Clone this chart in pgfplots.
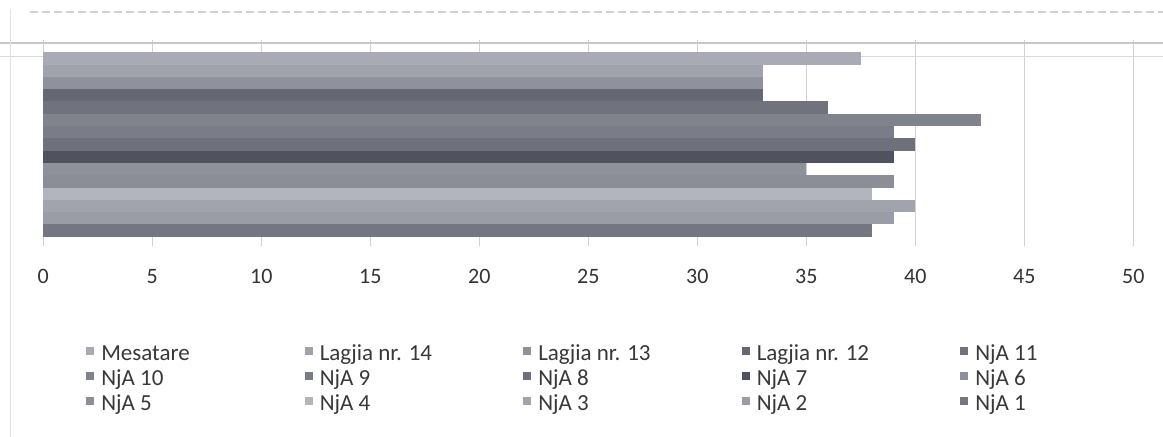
\documentclass[border=0pt]{standalone}
\usepackage{fontspec}
\setmainfont{Carlito}
\usepackage{pgfplots}
\pgfplotsset{compat=1.18}
\definecolor{c1}{HTML}{A9ABB4}
\definecolor{c2}{HTML}{A1A3AC}
\definecolor{c3}{HTML}{8F919B}
\definecolor{c4}{HTML}{656772}
\definecolor{c5}{HTML}{70727C}
\definecolor{c6}{HTML}{80828C}
\definecolor{c7}{HTML}{7A7C87}
\definecolor{c8}{HTML}{6E707B}
\definecolor{c9}{HTML}{50525D}
\definecolor{c10}{HTML}{8E909A}
\definecolor{c11}{HTML}{8B8D97}
\definecolor{c12}{HTML}{B3B5BE}
\definecolor{c13}{HTML}{A2A4AD}
\definecolor{c14}{HTML}{9B9DA6}
\definecolor{c15}{HTML}{747682}
\begin{document}
\begin{tikzpicture}
\begin{axis}[
  scale only axis, width=545pt, height=103pt,
  xmin=0, xmax=50, ymin=-0.256, ymax=16.5,
  clip=false,
  xbar, bar width=1, bar shift=0pt,
  xtick={0,5,...,50}, ytick=\empty,
  xmajorgrids, grid style={color=black!18, line width=0.6pt},
  axis line style={draw=none},
  major tick length=0pt,
  tick label style={font=\fontsize{11}{13}\selectfont, text=black!80},
  /pgf/number format/assume math mode=true,
  xticklabel style={yshift=-8.3pt},
  legend columns=5,
  legend image code/.code={\fill[#1] (0pt,-0.3pt) rectangle (4pt,3.7pt);},
  legend style={
    at={(0.0336,-0.455)}, anchor=north west,
    draw=none, fill=none,
    font=\fontsize{11.5}{13}\selectfont, text=black!78,
    column sep=0pt,
    /tikz/every odd column/.append style={column sep=3.5pt},
    nodes={inner sep=0pt, text height=8pt, text depth=2.5pt},
    row sep=2pt,
  },
]
% faint scan lines of the original page
\draw[black!22, line width=0.6pt] ([shift={(-21.65pt,101.5pt)}]rel axis cs:0,0) -- ([shift={(559.85pt,101.5pt)}]rel axis cs:0,0);
\draw[black!15, line width=0.5pt] ([shift={(-21.65pt,94.5pt)}]rel axis cs:0,0) -- ([shift={(559.85pt,94.5pt)}]rel axis cs:0,0);
\draw[black!12, line width=0.5pt] ([shift={(-16.15pt,-95.5pt)}]rel axis cs:0,0) -- ([shift={(-16.15pt,118.5pt)}]rel axis cs:0,0);
\draw[black!18, line width=0.6pt, dash pattern=on 4pt off 2pt] ([shift={(-6.65pt,117pt)}]rel axis cs:0,0) -- ([shift={(559.85pt,117pt)}]rel axis cs:0,0);
\coordinate (O) at (rel axis cs:0,0);
\addplot[fill=c1, draw=none, bar shift=0pt] coordinates {(37.5,15)};
\addlegendentry{\makebox[101.75pt][l]{Mesatare}}
\addplot[fill=c2, draw=none, bar shift=0pt] coordinates {(33,14)};
\addlegendentry{\makebox[101.75pt][l]{Lagjia nr. 14}}
\addplot[fill=c3, draw=none, bar shift=0pt] coordinates {(33,13)};
\addlegendentry{\makebox[101.75pt][l]{Lagjia nr. 13}}
\addplot[fill=c4, draw=none, bar shift=0pt] coordinates {(33,12)};
\addlegendentry{\makebox[101.75pt][l]{Lagjia nr. 12}}
\addplot[fill=c5, draw=none, bar shift=0pt] coordinates {(36,11)};
\addlegendentry{\makebox[101.75pt][l]{NjA 11}}
\addplot[fill=c6, draw=none, bar shift=0pt] coordinates {(43,10)};
\addlegendentry{\makebox[101.75pt][l]{NjA 10}}
\addplot[fill=c7, draw=none, bar shift=0pt] coordinates {(39,9)};
\addlegendentry{\makebox[101.75pt][l]{NjA 9}}
\addplot[fill=c8, draw=none, bar shift=0pt] coordinates {(40,8)};
\addlegendentry{\makebox[101.75pt][l]{NjA 8}}
\addplot[fill=c9, draw=none, bar shift=0pt] coordinates {(39,7)};
\addlegendentry{\makebox[101.75pt][l]{NjA 7}}
\addplot[fill=c10, draw=none, bar shift=0pt] coordinates {(35,6)};
\addlegendentry{\makebox[101.75pt][l]{NjA 6}}
\addplot[fill=c11, draw=none, bar shift=0pt] coordinates {(39,5)};
\addlegendentry{\makebox[101.75pt][l]{NjA 5}}
\addplot[fill=c12, draw=none, bar shift=0pt] coordinates {(38,4)};
\addlegendentry{\makebox[101.75pt][l]{NjA 4}}
\addplot[fill=c13, draw=none, bar shift=0pt] coordinates {(40,3)};
\addlegendentry{\makebox[101.75pt][l]{NjA 3}}
\addplot[fill=c14, draw=none, bar shift=0pt] coordinates {(39,2)};
\addlegendentry{\makebox[101.75pt][l]{NjA 2}}
\addplot[fill=c15, draw=none, bar shift=0pt] coordinates {(38,1)};
\addlegendentry{\makebox[101.75pt][l]{NjA 1}}
\end{axis}
\pgfresetboundingbox
\path[use as bounding box] ([shift={(-21.65pt,-95.5pt)}]O) rectangle ([shift={(559.85pt,123pt)}]O);
\end{tikzpicture}
\end{document}
